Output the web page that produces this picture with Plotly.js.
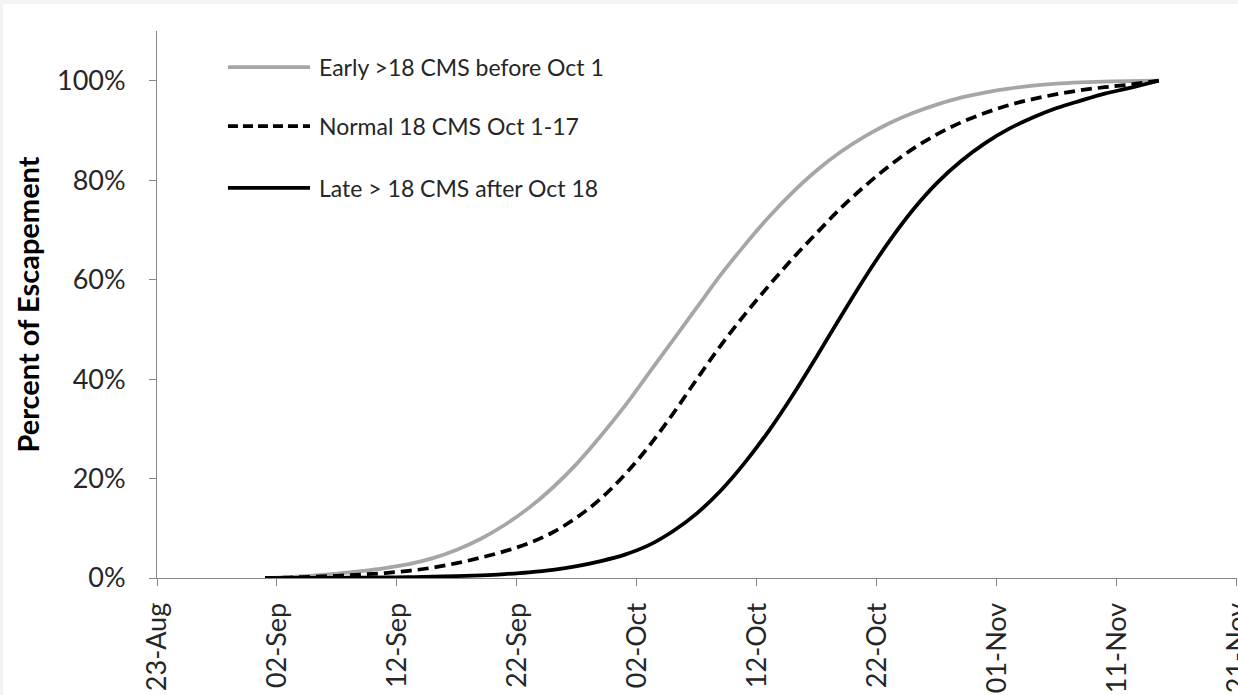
<!DOCTYPE html>
<html>
<head>
<meta charset="utf-8">
<script src="https://cdn.plot.ly/plotly-3.0.1.min.js"></script>
<style>
  html, body { margin: 0; padding: 0; background: #f3f3f3; width: 1238px; height: 695px; overflow: hidden; }
  #chart { position: absolute; left: 3px; top: 4px; width: 1235px; height: 691px; background: #fff; overflow: hidden; }
</style>
</head>
<body>
<div id="chart"></div>
<script>
// ---- Data ----
const seriesNames = ['Early >18 CMS before Oct 1', 'Normal 18 CMS Oct 1-17', 'Late > 18 CMS after Oct 18'];

const dates = ['2015-09-01','2015-09-03','2015-09-05','2015-09-07','2015-09-09','2015-09-11','2015-09-13','2015-09-15','2015-09-17','2015-09-19',
               '2015-09-21','2015-09-23','2015-09-25','2015-09-27','2015-09-29','2015-10-01','2015-10-03','2015-10-05','2015-10-07','2015-10-09',
               '2015-10-11','2015-10-13','2015-10-15','2015-10-17','2015-10-19','2015-10-21','2015-10-23','2015-10-25','2015-10-27','2015-10-29',
               '2015-10-31','2015-11-02','2015-11-04','2015-11-06','2015-11-08','2015-11-10','2015-11-12','2015-11-14 12:00'];

const earlyPct  = [0, 0.2, 0.5, 0.9, 1.4, 2.0, 2.8, 4.0, 5.7, 7.9,
                   10.7, 14.1, 18.2, 23.0, 28.6, 34.6, 41.2, 47.8, 54.4, 61.0,
                   67.0, 72.6, 77.6, 82.0, 85.7, 88.8, 91.4, 93.5, 95.2, 96.6,
                   97.6, 98.4, 99.0, 99.4, 99.65, 99.82, 99.93, 100];

const normalPct = [0, 0.1, 0.25, 0.45, 0.7, 1.0, 1.45, 2.1, 3.0, 4.1,
                   5.4, 7.0, 9.2, 12.2, 16.0, 20.8, 26.5, 33.0, 40.0, 46.8,
                   53.0, 58.8, 64.3, 69.4, 74.4, 78.8, 82.8, 86.3, 89.2, 91.6,
                   93.5, 95.1, 96.3, 97.3, 98.1, 98.7, 99.2, 100];

const latePct   = [0, 0.01, 0.03, 0.05, 0.08, 0.12, 0.18, 0.26, 0.38, 0.55,
                   0.8, 1.15, 1.65, 2.4, 3.4, 4.7, 6.6, 9.4, 13.0, 17.6,
                   23.2, 29.6, 36.8, 44.6, 52.6, 60.4, 67.6, 74.0, 79.4, 83.8,
                   87.4, 90.3, 92.6, 94.5, 96.0, 97.4, 98.5, 100];

const xRange = ['2015-08-23', '2015-11-21 00:30'];
const xTick0 = '2015-08-23';
const yTickVals = [0, 20, 40, 60, 80, 100];
const yTickText = yTickVals.map(v => v + '%');

// ---- Styles ----
const grayCol = '#a6a6a6';
const blackCol = '#000000';
const lw = 3.75;
const dashPat = '11px,6px';
const axisCol = '#868686';
const textCol = '#262626';
const fontFam = 'Lato, "Open Sans", sans-serif';

const lineBase = { width: lw, shape: 'spline', smoothing: 1 };
const traces = [
  { x: dates, y: earlyPct, name: seriesNames[0], type: 'scatter', mode: 'lines',
    line: Object.assign({ color: grayCol }, lineBase), showlegend: false },
  { x: dates, y: normalPct, name: seriesNames[1], type: 'scatter', mode: 'lines',
    line: Object.assign({ color: blackCol, dash: dashPat }, lineBase), showlegend: false },
  { x: dates, y: latePct, name: seriesNames[2], type: 'scatter', mode: 'lines',
    line: Object.assign({ color: blackCol }, lineBase), showlegend: false }
];

// Legend drawn as line samples + labels in paper coordinates
const legRows = [0.934, 0.826, 0.713];
const legStyles = [
  { color: grayCol, width: lw, dash: 'solid' },
  { color: blackCol, width: lw, dash: '10px,5px' },
  { color: blackCol, width: lw, dash: 'solid' }
];
const shapes = legRows.map((yy, i) => ({
  type: 'line', xref: 'paper', yref: 'paper',
  x0: 0.0657, x1: 0.1417, y0: yy, y1: yy,
  line: legStyles[i]
}));
const annotations = legRows.map((yy, i) => ({
  xref: 'paper', yref: 'paper', x: 0.148, y: yy,
  xanchor: 'left', yanchor: 'middle', showarrow: false,
  text: seriesNames[i],
  font: { family: fontFam, size: 23, color: textCol }
}));

const layout = {
  width: 1235, height: 691,
  paper_bgcolor: '#ffffff', plot_bgcolor: '#ffffff',
  margin: { l: 154, r: 1, t: 27, b: 117, pad: 0 },
  showlegend: false,
  font: { family: fontFam, color: textCol },
  xaxis: {
    type: 'date', range: xRange, autorange: false,
    tick0: xTick0, dtick: 864000000, tickformat: '%d-%b',
    tickangle: -90, ticks: 'outside', ticklen: 7, tickwidth: 1, tickcolor: axisCol,
    showline: true, linecolor: axisCol, linewidth: 1,
    showgrid: false, zeroline: false,
    tickfont: { family: fontFam, size: 27, color: textCol },
    ticklabelstandoff: 6,
    ticklabeloverflow: 'allow'
  },
  yaxis: {
    range: [0, 110], autorange: false,
    tickmode: 'array', tickvals: yTickVals, ticktext: yTickText,
    ticks: 'outside', ticklen: 7, tickwidth: 1, tickcolor: axisCol,
    showline: true, linecolor: axisCol, linewidth: 1,
    showgrid: false, zeroline: false,
    tickfont: { family: fontFam, size: 27, color: textCol },
    ticklabelstandoff: 18,
    title: { text: '<b>Percent of Escapement</b>', font: { family: fontFam, size: 29, color: '#000' }, standoff: 8 }
  },
  shapes: shapes,
  annotations: annotations
};

Plotly.newPlot('chart', traces, layout, { displayModeBar: false, staticPlot: true });
</script>
</body>
</html>
